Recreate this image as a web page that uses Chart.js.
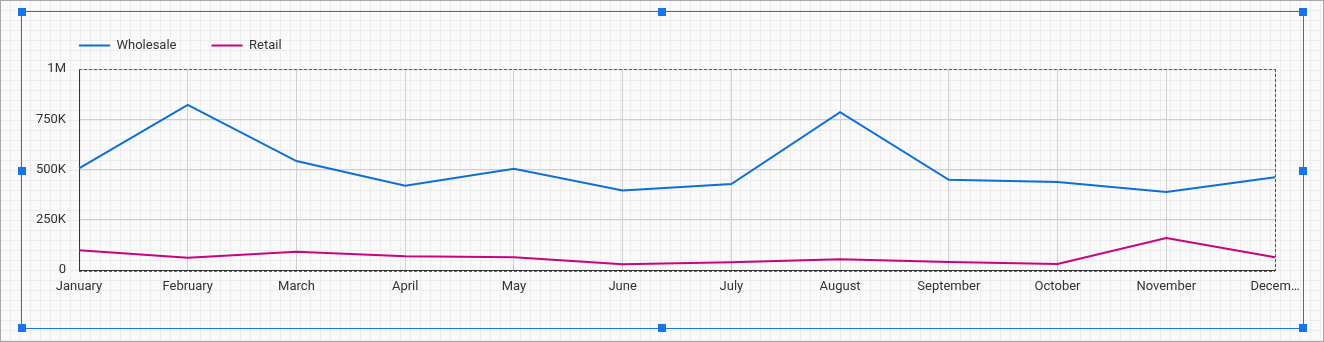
<!DOCTYPE html>
<html lang="en">
<head>
    <meta charset="UTF-8">
    <title>Wholesale vs Retail</title>
    <style>
        /* page = editor canvas with fine grid */
        html, body { margin: 0; padding: 0; }
        .page {
            position: relative;
            width: 1324px;
            height: 342px;
            box-sizing: border-box;
            border: 1px solid #a8a8a8;
            background-color: #fafafa;
            background-image:
                linear-gradient(#ececec 1px, transparent 1px),
                linear-gradient(90deg, #ececec 1px, transparent 1px);
            background-size: 10px 10px;
            background-position: -1px -1px;
            overflow: hidden;
        }
        canvas { position: absolute; left: -1px; top: -1px; }
        /* selection frame around the chart */
        .frame {
            position: absolute;
            left: 20px; top: 10px;
            width: 1281px; height: 316px;
            border: 1px solid #1a73e8;
        }
        .handle {
            position: absolute;
            width: 8px; height: 8px;
            background: #1a73e8;
        }
    </style>
</head>
<body>
    <div class="page">
        <canvas id="salesChart" width="1324" height="342"></canvas>
        <div class="frame"></div>
        <div class="handle" style="left:17px; top:7px;"></div>
        <div class="handle" style="left:657px; top:7px;"></div>
        <div class="handle" style="left:1298px; top:7px;"></div>
        <div class="handle" style="left:17px; top:166px;"></div>
        <div class="handle" style="left:1298px; top:166px;"></div>
        <div class="handle" style="left:17px; top:323px;"></div>
        <div class="handle" style="left:657px; top:323px;"></div>
        <div class="handle" style="left:1298px; top:323px;"></div>
    </div>

    <script src="https://cdn.jsdelivr.net/npm/chart.js"></script>
    <script>
        // data
        const months = ['January', 'February', 'March', 'April', 'May', 'June',
                        'July', 'August', 'September', 'October', 'November', 'December'];
        const wholesale = [506000, 821000, 542000, 419000, 504000, 395000,
                           428000, 785000, 449000, 438000, 388000, 461000];
        const retail = [98000, 61000, 91000, 68000, 63000, 28000,
                        38000, 53000, 40000, 30000, 159000, 63000];
        const yTicks = [0, 250000, 500000, 750000, 1000000];
        const yTickLabels = ['0', '250K', '500K', '750K', '1M'];

        const font = 'Roboto';
        const legendPad = 35;

        // dashed outline of the plot area (top/bottom blue, right grey)
        const plotOutline = {
            id: 'plotOutline',
            afterLayout(chart) {
                // legend starts at the plot's left edge, not the canvas edge
                const lg = chart.legend;
                const dx = chart.chartArea.left - legendPad - lg.left;
                lg.left += dx;
                lg.right += dx;
                const dy = 4 - lg.top;
                lg.top += dy;
                lg.bottom += dy;
            },
            afterDraw(chart) {
                const a = chart.chartArea;
                const ctx = chart.ctx;
                ctx.save();
                ctx.lineWidth = 1;
                ctx.setLineDash([3, 2]);
                ctx.strokeStyle = '#1a6fd8';
                ctx.beginPath();
                ctx.moveTo(a.left, a.top + 0.5);
                ctx.lineTo(a.right, a.top + 0.5);
                ctx.moveTo(a.left, a.bottom + 1.5);
                ctx.lineTo(a.right, a.bottom + 1.5);
                ctx.stroke();
                ctx.strokeStyle = '#555';
                ctx.beginPath();
                ctx.moveTo(a.right + 0.5, a.top);
                ctx.lineTo(a.right + 0.5, a.bottom);
                ctx.stroke();
                ctx.restore();
            }
        };

        new Chart(document.getElementById('salesChart'), {
            type: 'line',
            data: {
                labels: months,
                datasets: [{
                    label: 'Wholesale',
                    data: wholesale,
                    borderColor: '#0e6fd6',
                    backgroundColor: '#0e6fd6',
                    borderWidth: 2,
                    pointRadius: 0,
                    tension: 0
                }, {
                    label: 'Retail',
                    data: retail,
                    borderColor: '#c8047f',
                    backgroundColor: '#c8047f',
                    borderWidth: 2,
                    pointRadius: 0,
                    tension: 0
                }]
            },
            options: {
                responsive: false,
                animation: false,
                layout: { padding: { left: 6, right: 49, top: 11, bottom: 42 } },
                plugins: {
                    tooltip: { enabled: false },
                    legend: {
                        position: 'top',
                        align: 'start',
                        labels: {
                            boxWidth: 31,
                            boxHeight: 2,
                            padding: legendPad,
                            color: '#333',
                            font: { family: font, size: 13 },
                            generateLabels(chart) {
                                return Chart.defaults.plugins.legend.labels.generateLabels(chart)
                                    .map(l => ({ ...l, lineWidth: 0 }));
                            }
                        }
                    }
                },
                scales: {
                    x: {
                        afterFit(scale) { scale.height = 30; },
                        grid: { color: '#d0d0d0', drawTicks: false },
                        border: { color: '#333', width: 1 },
                        ticks: {
                            padding: 9,
                            color: '#333',
                            maxRotation: 0,
                            autoSkip: false,
                            font: { family: font, size: 13 },
                            callback(v, i) {
                                const name = months[i];
                                return i === months.length - 1 ? name.slice(0, 5) + '…' : name;
                            }
                        }
                    },
                    y: {
                        min: 0,
                        max: 1000000,
                        afterFit(scale) { scale.width = 73; },
                        afterBuildTicks(scale) { scale.ticks = yTicks.map(v => ({ value: v })); },
                        grid: { color: '#d0d0d0', drawTicks: false },
                        border: { color: '#333', width: 1 },
                        ticks: {
                            padding: 13,
                            color: '#333',
                            font: { family: font, size: 13 },
                            callback(v) { return yTickLabels[yTicks.indexOf(v)]; }
                        }
                    }
                }
            },
            plugins: [plotOutline]
        });
    </script>
</body>
</html>
